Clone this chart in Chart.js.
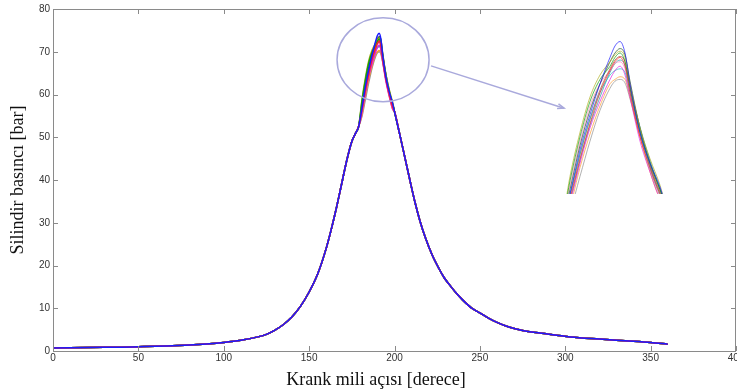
<!DOCTYPE html>
<html>
<head>
<meta charset="utf-8">
<script src="https://cdn.jsdelivr.net/npm/chart.js@4.4.1/dist/chart.umd.min.js"></script>
<style>
    body { margin: 0; background: #fff; }
    #wrap { position: relative; width: 737px; height: 391px; }
    #peak-zoom { position: absolute; left: 565px; top: 38px; }
</style>
</head>
<body>
<div id="wrap">
    <canvas id="cylinder-pressure" width="737" height="391"></canvas>
    <canvas id="peak-zoom" width="100" height="156"></canvas>
</div>
<script>
// tick labels
var angleTicks = [0, 50, 100, 150, 200, 250, 300, 350, 400];
var pressureTicks = [0, 10, 20, 30, 40, 50, 60, 70, 80];

// common part of all cycles (outside the peak)
var crankAngle = [0, 10, 20, 30, 40, 50, 60, 70, 80, 90, 100, 110, 120, 125, 130, 135, 140, 145, 150, 155,
    160, 163, 166, 169, 172, 175, 177, 179,
    200, 203, 206, 209, 212, 215, 218, 222, 226, 229, 232, 236, 240, 245, 250, 255, 260, 267, 275, 285, 295, 303, 320, 335, 350, 360];
var pressure = [0.7, 0.75, 0.8, 0.85, 0.9, 1.0, 1.1, 1.25, 1.4, 1.65, 2.0, 2.5, 3.3, 3.9, 4.9, 6.2, 8.0, 10.5, 13.8, 18,
    24, 28.5, 33.5, 39, 44.5, 49, 50.8, 52.5,
    56, 50.8, 45.4, 40, 34.8, 30.3, 26.6, 22.5, 19.3, 17.2, 15.6, 13.6, 11.9, 10.1, 8.9, 7.7, 6.7, 5.6, 4.8, 4.2, 3.7, 3.3, 2.8, 2.4, 2.0, 1.6];

// peak region, one array per cycle
var peakAngle = [181, 183, 185, 187, 189, 190, 191, 192, 193, 195, 197, 199];
var peakBlue    = [57, 62, 66, 69.5, 72.5, 73.8, 74.3, 73, 69.5, 64, 60.5, 57.8];
var peakRed     = [56.5, 61, 65, 68.5, 71, 72, 72.5, 71.5, 68.5, 63.5, 60, 57];
var peakGreen   = [58.5, 63.5, 67.5, 70, 71.5, 72.5, 73, 72, 69, 64, 60.5, 57.5];
var peakMagenta = [56, 60.5, 64.5, 67.5, 70, 71, 71.5, 70.5, 68, 63, 59.5, 56.5];
var peakCyan    = [57, 61.5, 65.5, 68.5, 70.5, 71, 71.2, 70.8, 68.5, 64, 60, 57];
var peakOlive   = [59, 64, 68, 70.5, 72, 72.8, 73.2, 72.5, 69.5, 64.5, 61, 58];
var peakOrange  = [55.5, 60, 63.8, 67, 69.5, 70, 70.3, 70, 68, 63.5, 59.5, 56.5];
var peakDark    = [57.5, 62.5, 66.5, 69.5, 72, 73, 73.5, 72.8, 69.8, 64.5, 60.5, 57.5];
var peakBrown   = [56.8, 61.5, 65.5, 68.8, 71.2, 72.2, 72.6, 72, 69.2, 64.2, 60.2, 57.2];
var peakPink    = [58, 63, 67, 69.5, 71, 71.8, 72, 71.2, 68.8, 63.8, 60.2, 57.2];
var peakTeal    = [56.2, 60.8, 64.8, 68, 70.8, 71.8, 72.2, 71.6, 69, 64.6, 60.8, 57.6];
var peakGray    = [55, 59, 63, 66.5, 69, 69.8, 70, 69.6, 67.8, 63.5, 59.8, 56.8];

var cycles = [
    { peak: peakBlue, color: '#1a1aff' },
    { peak: peakRed, color: '#ff2020' },
    { peak: peakMagenta, color: '#e020e0' },
    { peak: peakGreen, color: '#10a010' },
    { peak: peakCyan, color: '#10c0c0' },
    { peak: peakOlive, color: '#b0b020' },
    { peak: peakOrange, color: '#ff9a30' },
    { peak: peakDark, color: '#205020' },
    { peak: peakBrown, color: '#a05030' },
    { peak: peakPink, color: '#ff80c0' },
    { peak: peakTeal, color: '#2090a0' },
    { peak: peakGray, color: '#909090' }
];

function cycleData(peak) {
    var pts = [];
    crankAngle.forEach(function(a, i) { if (a < peakAngle[0]) pts.push({ x: a, y: pressure[i] }); });
    peakAngle.forEach(function(a, i) { pts.push({ x: a, y: peak[i] }); });
    crankAngle.forEach(function(a, i) { if (a > peakAngle[peakAngle.length - 1]) pts.push({ x: a, y: pressure[i] }); });
    return pts;
}

function makeDatasets(alpha, width) {
    return cycles.map(function(c) {
        return {
            data: cycleData(c.peak),
            borderColor: c.color + alpha,
            borderWidth: width,
            pointRadius: 0,
            cubicInterpolationMode: 'monotone'
        };
    });
}

var tickFont = "10px 'Liberation Sans Narrow', 'Liberation Sans', Arial, sans-serif";
var titleFont = "18px 'Liberation Serif', 'Times New Roman', serif";

var matlabAxes = {
    id: 'matlabAxes',
    afterDraw: function(chart) {
        var ctx = chart.ctx;
        var a = chart.chartArea;
        var xs = chart.scales.x, ys = chart.scales.y;
        ctx.save();
        // box
        ctx.strokeStyle = '#8a8a8a';
        ctx.lineWidth = 1;
        ctx.strokeRect(Math.round(a.left) + 0.5, Math.round(a.top) + 0.5,
            Math.round(a.right - a.left) - 1, Math.round(a.bottom - a.top));
        // inward ticks
        ctx.beginPath();
        angleTicks.forEach(function(t) {
            var px = Math.round(xs.getPixelForValue(t)) + 0.5;
            ctx.moveTo(px, a.bottom); ctx.lineTo(px, a.bottom - 5);
            ctx.moveTo(px, a.top); ctx.lineTo(px, a.top + 5);
        });
        pressureTicks.forEach(function(t) {
            var py = Math.round(ys.getPixelForValue(t)) + 0.5;
            ctx.moveTo(a.left, py); ctx.lineTo(a.left + 5, py);
            ctx.moveTo(a.right, py); ctx.lineTo(a.right - 5, py);
        });
        ctx.stroke();
        // tick labels
        ctx.fillStyle = '#333';
        ctx.font = tickFont;
        ctx.textAlign = 'center';
        ctx.textBaseline = 'top';
        angleTicks.forEach(function(t) {
            ctx.fillText(String(t), xs.getPixelForValue(t), a.bottom + 2);
        });
        ctx.textAlign = 'right';
        ctx.textBaseline = 'middle';
        pressureTicks.forEach(function(t) {
            ctx.fillText(String(t), a.left - 3, ys.getPixelForValue(t));
        });
        // axis titles
        ctx.fillStyle = '#111';
        ctx.font = titleFont;
        ctx.textAlign = 'center';
        ctx.textBaseline = 'middle';
        ctx.fillText('Krank mili açısı [derece]', 376, 380);
        ctx.translate(18, (a.top + a.bottom) / 2);
        ctx.rotate(-Math.PI / 2);
        ctx.fillText('Silindir basıncı [bar]', 0, 0);
        ctx.restore();

        // zoom circle and arrow
        ctx.save();
        ctx.strokeStyle = '#a9a9dc';
        ctx.lineWidth = 1.5;
        ctx.beginPath();
        ctx.ellipse(xs.getPixelForValue(193.3), ys.getPixelForValue(68.1), 46, 42, 0, 0, Math.PI * 2);
        ctx.stroke();
        var x0 = xs.getPixelForValue(221.4), y0 = ys.getPixelForValue(66.7);
        var x1 = xs.getPixelForValue(299.3), y1 = ys.getPixelForValue(56.8);
        ctx.beginPath();
        ctx.moveTo(x0, y0); ctx.lineTo(x1, y1);
        ctx.stroke();
        var ang = Math.atan2(y1 - y0, x1 - x0);
        ctx.beginPath();
        ctx.moveTo(x1 - 7 * Math.cos(ang - 0.35), y1 - 7 * Math.sin(ang - 0.35));
        ctx.lineTo(x1, y1);
        ctx.lineTo(x1 - 7 * Math.cos(ang + 0.35), y1 - 7 * Math.sin(ang + 0.35));
        ctx.stroke();
        ctx.restore();
    }
};

var mainChart = new Chart(document.getElementById('cylinder-pressure').getContext('2d'), {
    type: 'line',
    data: { datasets: makeDatasets('', 1.5) },
    options: {
        responsive: false,
        animation: false,
        layout: { padding: { top: 9, right: 1, left: 0, bottom: 0 } },
        plugins: { legend: { display: false }, tooltip: { enabled: false } },
        scales: {
            x: {
                type: 'linear', min: 0, max: 400,
                grid: { display: false }, border: { display: false },
                ticks: { display: false },
                afterFit: function(s) { s.height = 40; }
            },
            y: {
                min: 0, max: 80,
                grid: { display: false }, border: { display: false },
                ticks: { display: false },
                afterFit: function(s) { s.width = 53; }
            }
        }
    },
    plugins: [matlabAxes]
});

// enlarged view of the peak
var zoomChart = new Chart(document.getElementById('peak-zoom').getContext('2d'), {
    type: 'line',
    data: { datasets: makeDatasets('b0', 1) },
    options: {
        responsive: false,
        animation: false,
        layout: { padding: 0 },
        plugins: { legend: { display: false }, tooltip: { enabled: false } },
        scales: {
            x: { type: 'linear', min: 180, max: 200, display: false },
            y: { min: 57, max: 74.7, display: false }
        }
    }
});
</script>
</body>
</html>
